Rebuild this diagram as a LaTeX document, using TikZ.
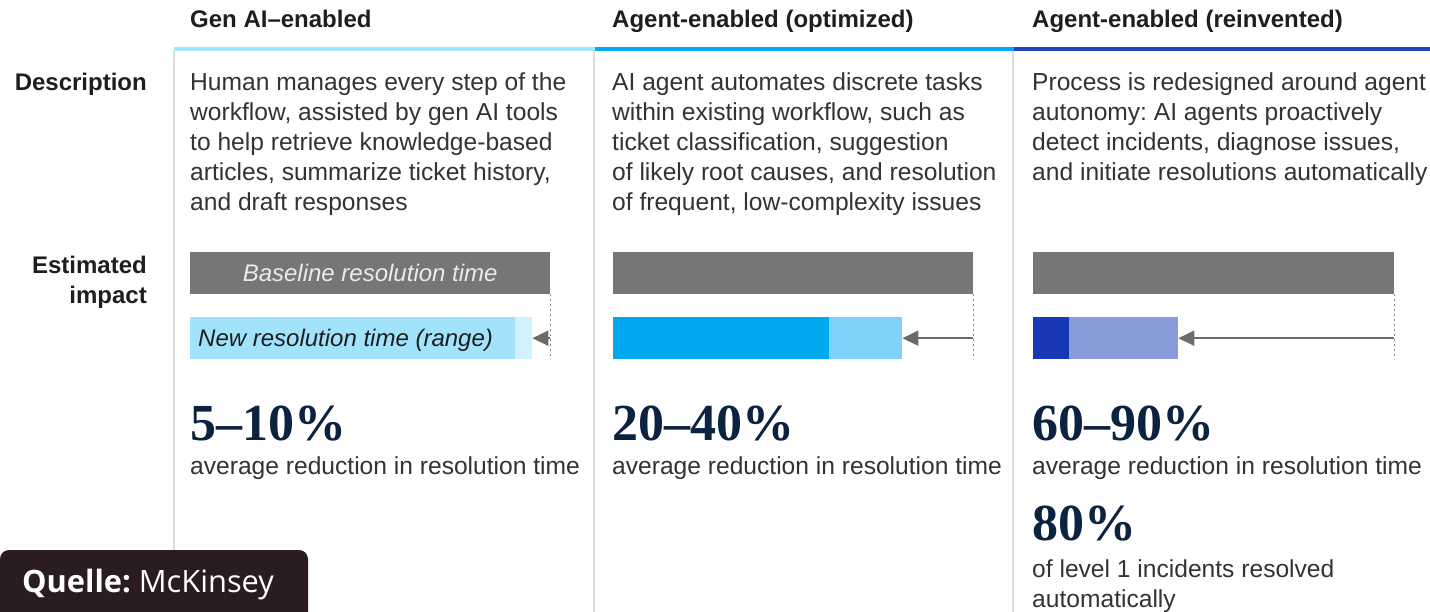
\documentclass[tikz,border=0pt]{standalone}
\usepackage{fontspec}
\setmainfont{Liberation Sans}
\newfontfamily\numfont{Liberation Serif}
\newfontfamily\qfont{Open Sans}
\usetikzlibrary{arrows.meta}
\frenchspacing
\definecolor{txtc}{HTML}{333333}
\definecolor{headc}{HTML}{1E1E1E}
\definecolor{sepc}{HTML}{DCDCDC}
\definecolor{hOne}{HTML}{A3E5FA}
\definecolor{hTwo}{HTML}{00A9F4}
\definecolor{hThree}{HTML}{2443C4}
\definecolor{basec}{HTML}{767676}
\definecolor{oneMain}{HTML}{A0E3FA}
\definecolor{onePale}{HTML}{D0F2FD}
\definecolor{twoMain}{HTML}{00A8F0}
\definecolor{twoPale}{HTML}{80D3F8}
\definecolor{threeMain}{HTML}{1838B8}
\definecolor{threePale}{HTML}{8A9BDB}
\definecolor{arrc}{HTML}{6B6B6B}
\definecolor{navy}{HTML}{0B2340}
\definecolor{quellec}{HTML}{2B1C24}
\begin{document}
\begin{tikzpicture}[x=1pt,y=-1pt,
  txt/.style={anchor=base west, inner sep=0pt, align=left, text=txtc, font=\fontsize{24.6}{29.8}\selectfont},
  head/.style={anchor=base west, inner sep=0pt, text=headc, font=\fontsize{24}{30}\selectfont\bfseries},
  rowlab/.style={anchor=base east, inner sep=0pt, align=right, text=headc, font=\fontsize{24}{30}\selectfont\bfseries},
  big/.style={anchor=base west, inner sep=0pt, text=navy, font=\numfont\bfseries\fontsize{52}{52}\selectfont},
  barbox/.style={anchor=north west, inner sep=0pt, draw=none, minimum height=42pt},
  sepline/.style={draw=sepc, line width=1.5pt},
  headline/.style={line width=4pt},
  dotline/.style={draw=arrc!80, line width=1pt, dash pattern=on 2pt off 3pt},
  arr/.style={draw=arrc, line width=2pt, -{Triangle[length=16pt,width=15pt]}},
  bartext/.style={inner sep=0pt, font=\fontsize{24}{30}\selectfont\itshape}
]
\useasboundingbox (0,0) rectangle (1430,612);
\fill[white] (0,0) rectangle (1430,612);

% separators
\draw[sepline] (174,51) -- (174,612);
\draw[sepline] (594,51) -- (594,612);
\draw[sepline] (1013,51) -- (1013,612);

% header lines
\draw[headline, hOne] (174,49) -- (595,49);
\draw[headline, hTwo] (595,49) -- (1014,49);
\draw[headline, hThree] (1014,49) -- (1430,49);

% headers
\node[head] (h1) at (190,28) {Gen AI–enabled};
\node[head] (h2) at (612,28) {Agent-enabled (optimized)};
\node[head] (h3) at (1032,28) {Agent-enabled (reinvented)};

% row labels (multi-line nodes: base = last line)
\node[rowlab] (ldesc) at (147,91) {Description};
\node[rowlab] (limp) at (147,304) {Estimated\\impact};

% descriptions
\node[txt] (d1) at (190,210.2) {Human manages every step of the\\workflow, assisted by gen AI tools\\to help retrieve knowledge-based\\articles, summarize ticket history,\\and draft responses};
\node[txt] (d2) at (612,210.2) {AI agent automates discrete tasks\\within existing workflow, such as\\ticket classification, suggestion\\of likely root causes, and resolution\\of frequent, low-complexity issues};
\node[txt] (d3) at (1032,180.4) {Process is redesigned around agent\\autonomy: AI agents proactively\\detect incidents, diagnose issues,\\and initiate resolutions automatically};

% column 1 bars
\node[barbox, fill=basec, minimum width=360pt] (b1) at (190,252) {};
\node[bartext, text=white!92!black] (b1t) at (b1.center) {Baseline resolution time};
\node[barbox, fill=onePale, minimum width=342pt] (n1r) at (190,317) {};
\node[barbox, fill=oneMain, minimum width=325pt] (n1) at (190,317) {};
\node[bartext, anchor=base west, text=headc] (n1t) at (198,347) {New resolution time (range)};
\draw[dotline] (b1.south east) -- (b1.south east |- n1r.south);
\draw[arr] (b1.south east |- n1r.east) -- (n1r.east);

% column 2 bars
\node[barbox, fill=basec, minimum width=360pt] (b2) at (613,252) {};
\node[barbox, fill=twoPale, minimum width=289pt] (n2r) at (613,317) {};
\node[barbox, fill=twoMain, minimum width=216pt] (n2) at (613,317) {};
\draw[dotline] (b2.south east) -- (b2.south east |- n2r.south);
\draw[arr] (b2.south east |- n2r.east) -- (n2r.east);

% column 3 bars
\node[barbox, fill=basec, minimum width=361pt] (b3) at (1033,252) {};
\node[barbox, fill=threePale, minimum width=145pt] (n3r) at (1033,317) {};
\node[barbox, fill=threeMain, minimum width=36pt] (n3) at (1033,317) {};
\draw[dotline] (b3.south east) -- (b3.south east |- n3r.south);
\draw[arr] (b3.south east |- n3r.east) -- (n3r.east);

% figures
\node[big] (p1) at (190,440) {5–10\%};
\node[big] (p2) at (612,440) {20–40\%};
\node[big] (p3) at (1032,440) {60–90\%};
\node[txt] (a1) at (190,474) {average reduction in resolution time};
\node[txt] (a2) at (612,474) {average reduction in resolution time};
\node[txt] (a3) at (1032,474) {average reduction in resolution time};
\node[big] (p4) at (1032,540) {80\%};
\node[txt] (a4) at (1032,607) {of level 1 incidents resolved\\automatically};

% source box
\fill[quellec] (0,620) [rounded corners=9pt] -- (0,550) -- (308,550) [sharp corners] -- (308,620) -- cycle;
\node[anchor=base west, inner sep=0pt, text=white, font=\qfont\fontsize{30.8}{32}\selectfont] (q) at (22,592) {\textbf{Quelle:} McKinsey};
\end{tikzpicture}
\end{document}
